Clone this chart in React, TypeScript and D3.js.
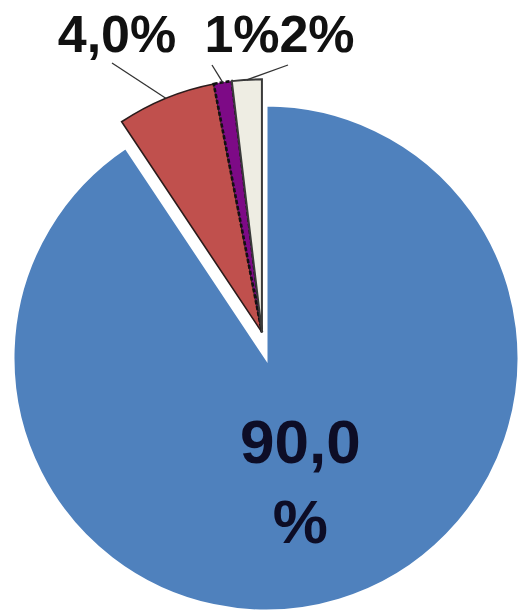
import React from "react";
import * as d3 from "d3";

const categories = ["A", "B", "C", "D"];
const values = [90.6, 6.3, 1.15, 1.9];
const labels = ["90,0\n%", "4,0%", "1%", "2%"];
const colors = ["#4F81BD", "#C0504D", "#7D0A86", "#EEEDE3"];
const exploded = [false, true, true, true];

const W = 521;
const H = 616;
const cx = 266;
const cy = 358;
const R = 253;
const explodeDist = 26;
const explodeAngle = (-9 * Math.PI) / 180;

// label layout (anchor position of text, leader start)
const labelPos: Record<number, { x: number; y: number; lx: number; ly: number }> = {
  1: { x: 117, y: 52, lx: 112, ly: 63 },
  2: { x: 242, y: 52, lx: 212, ly: 65 },
  3: { x: 317, y: 52, lx: 288, ly: 65 },
};

export default function App() {
  const pie = d3
    .pie<number>()
    .sort(null)
    .value((d) => d)
    .startAngle(0)
    .endAngle(2 * Math.PI);
  const arcs = pie(values);
  const arc = d3.arc<d3.PieArcDatum<number>>().innerRadius(0).outerRadius(R);
  const ox = Math.sin(explodeAngle) * explodeDist;
  const oy = -Math.cos(explodeAngle) * explodeDist;

  const strokes = ["#ffffff", "#2b1b1b", "#111111", "#3a3a3a"];
  const strokeW = [3, 1.6, 2.6, 2];
  const dash = [undefined, undefined, "4,2", undefined];

  const blue = arcs[0];
  const bMid = (blue.startAngle + blue.endAngle) / 2;
  const bx = cx + Math.sin(bMid) * R * 0.47;
  const by = cy - Math.cos(bMid) * R * 0.47;

  return (
    <svg width={W} height={H} style={{ position: "absolute", left: 0, top: 0, background: "#fff" }}>
      {arcs.map((a, i) => {
        const tx = exploded[i] ? cx + ox : cx;
        const ty = exploded[i] ? cy + oy : cy;
        return (
          <path
            key={categories[i]}
            d={arc(a) || ""}
            transform={`translate(${tx},${ty})`}
            fill={colors[i]}
            stroke={strokes[i]}
            strokeWidth={strokeW[i]}
            strokeDasharray={dash[i]}
            strokeLinejoin="miter"
          />
        );
      })}
      {arcs.map((a, i) => {
        const p = labelPos[i];
        if (!p) return null;
        const mid = (a.startAngle + a.endAngle) / 2;
        const ex = cx + ox + Math.sin(mid) * R;
        const ey = cy + oy - Math.cos(mid) * R;
        return (
          <g key={"l" + i}>
            <line x1={p.lx} y1={p.ly} x2={ex} y2={ey} stroke="#333" strokeWidth={1.3} />
            <text
              x={p.x}
              y={p.y}
              textAnchor="middle"
              fontFamily="'Liberation Sans', Arial, sans-serif"
              fontWeight="bold"
              fontSize={52}
              fill="#111"
            >
              {labels[i]}
            </text>
          </g>
        );
      })}
      <text
        x={bx}
        textAnchor="middle"
        fontFamily="'Liberation Sans', Arial, sans-serif"
        fontWeight="bold"
        fontSize={62}
        fill="#0d0d26"
      >
        {labels[0].split("\n").map((s, k) => (
          <tspan key={k} x={bx} y={by - 9 + k * 80}>
            {s}
          </tspan>
        ))}
      </text>
    </svg>
  );
}
